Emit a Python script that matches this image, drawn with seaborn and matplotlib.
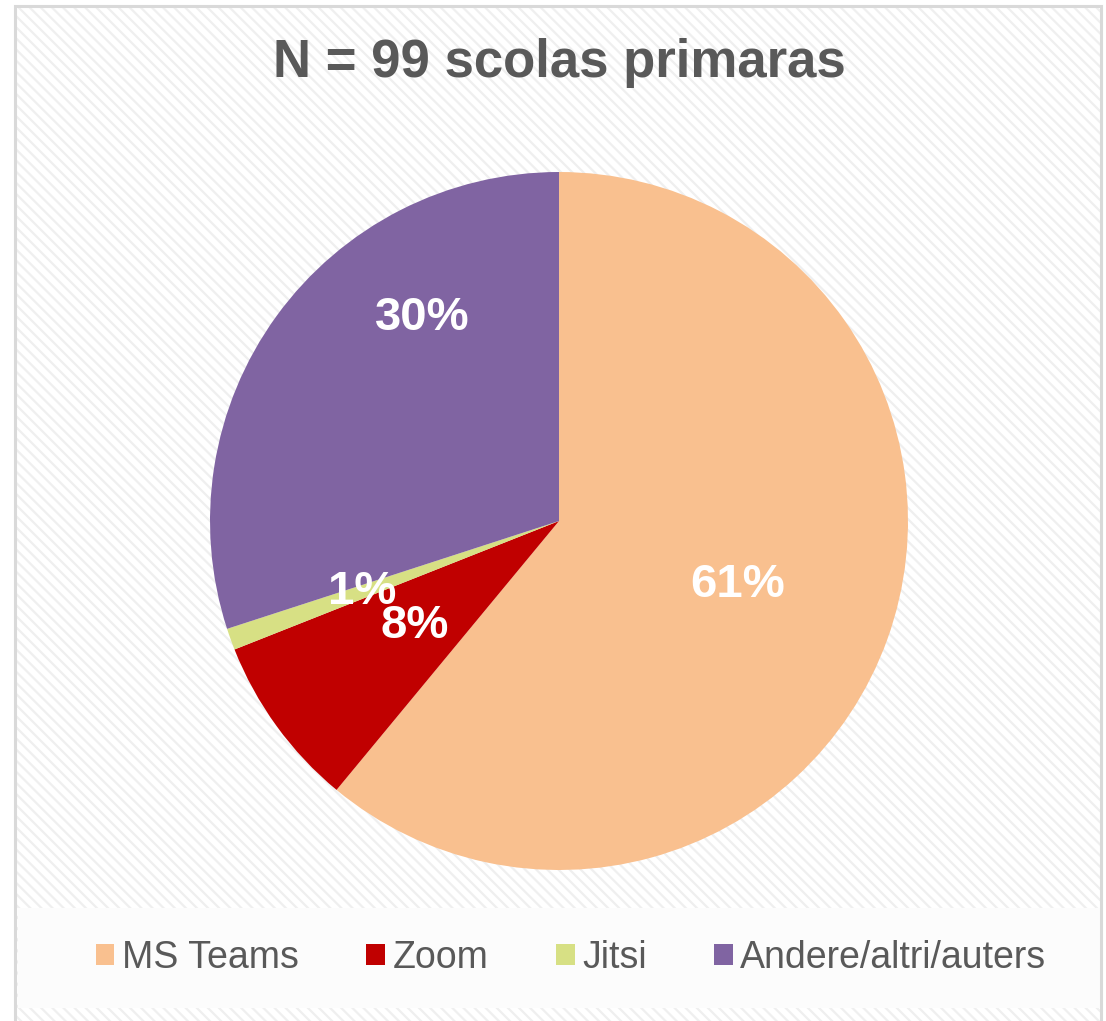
import numpy as np
import matplotlib
matplotlib.use('Agg')
import matplotlib.pyplot as plt
from matplotlib.patches import Rectangle
import seaborn as sns

# データ (割合 %)
categories = ['MS Teams', 'Zoom', 'Jitsi', 'Andere/altri/auters']
shares = [61, 8, 1, 30]
colors = ['#F9C08F', '#C00000', '#D7E084', '#8064A2']
title = 'N = 99 scolas primaras'

# ラベル位置 (半径比, 角度ずらし)
label_r = [0.545, 0.51, 0.60, 0.70]
label_shift = [0, 0, 0, -20]

sns.set_theme(style='white')
plt.rcParams['font.family'] = ['Liberation Sans', 'DejaVu Sans']
plt.rcParams['hatch.linewidth'] = 1.6

W, H = 1106, 1021
fig = plt.figure(figsize=(W / 100, H / 100), dpi=100)
fig.patch.set_facecolor('white')

# 背景のハッチと枠
bg = Rectangle((15 / W, 0), (1101 - 15) / W, 1 - 6 / H, transform=fig.transFigure,
               facecolor='white', edgecolor='#EFEFEF', hatch='\\\\\\', linewidth=0, zorder=-3)
fig.patches.append(bg)
border = Rectangle((15 / W, -0.01), (1101 - 15) / W, 1.01 - 6 / H, transform=fig.transFigure,
                   facecolor='none', edgecolor='#D9D9D9', linewidth=2.2, zorder=-1)
fig.patches.append(border)
legbg = Rectangle((18 / W, 1 - 1008 / H), (1100 - 18) / W, 100 / H, transform=fig.transFigure,
                  facecolor='#FCFCFC', edgecolor='none', zorder=-2)
fig.patches.append(legbg)

cx, cy, r = 559, 521, 349
ax = fig.add_axes([(cx - r) / W, 1 - (cy + r) / H, 2 * r / W, 2 * r / H])
ax.set_facecolor('none')

palette = sns.color_palette(colors)
wedges, texts, autotexts = ax.pie(
    shares, colors=palette, startangle=90, counterclock=False,
    autopct=lambda p: f'{p:.0f}%', wedgeprops=dict(linewidth=0),
    textprops=dict(color='white', fontsize=34, fontweight='bold'))

for w, t, d, s in zip(wedges, autotexts, label_r, label_shift):
    ang = np.deg2rad((w.theta1 + w.theta2) / 2 + s)
    t.set_position((d * np.cos(ang), d * np.sin(ang)))
    t.set_ha('center')
    t.set_va('center')

ax.set_xlim(-1, 1)
ax.set_ylim(-1, 1)
ax.set_aspect('equal')
ax.axis('off')

fig.text(559 / W, 1 - 58 / H, title, ha='center', va='center_baseline',
         fontsize=38, fontweight='bold', color='#595959')

leg = fig.legend(wedges, categories, loc='center', bbox_to_anchor=(571 / W, 1 - 958 / H),
                 ncol=4, frameon=False, fontsize=27, handlelength=0.5, handleheight=0.5,
                 handletextpad=0.2, columnspacing=1.8, borderpad=0)
for t in leg.get_texts():
    t.set_color('#595959')

fig.savefig('out.png', dpi=100, facecolor=fig.get_facecolor())
